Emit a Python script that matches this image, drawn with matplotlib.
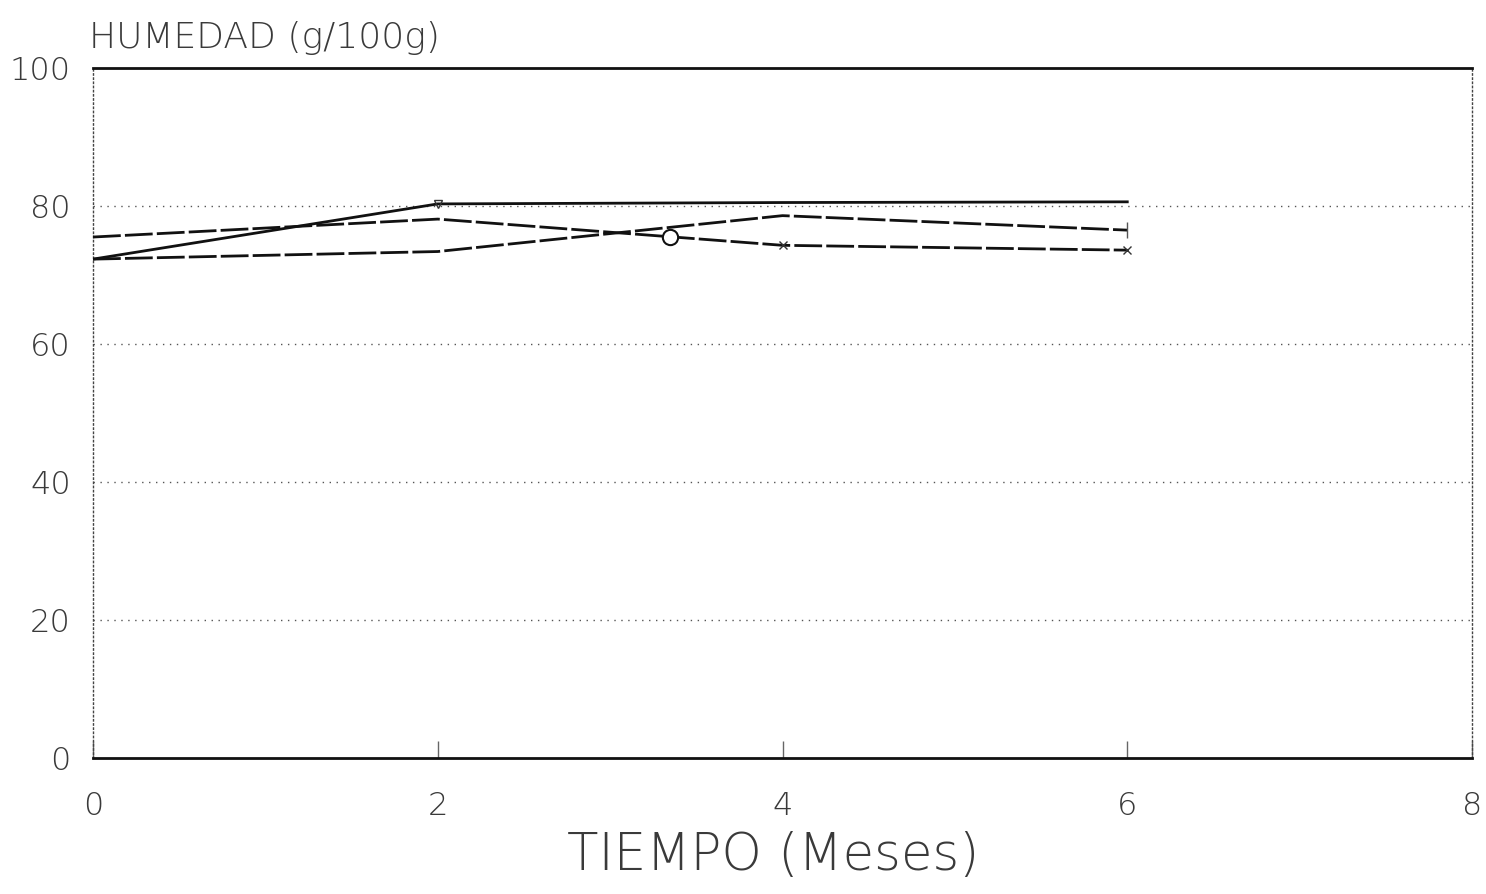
import matplotlib
matplotlib.use("Agg")
import matplotlib.pyplot as plt

# ---- data ----
meses = [0, 2, 4, 6]
serie_a = [72.3, 80.3, 80.5, 80.6]   # solid line
serie_b = [75.5, 78.1, 74.3, 73.6]   # dashed
serie_c = [72.3, 73.4, 78.6, 76.5]   # dashed
circulo_x = [3.35]
circulo_y = [75.5]
x_ticks = [0, 2, 4, 6, 8]
x_labels = ["0", "2", "4", "6", "8"]
y_ticks = [0, 20, 40, 60, 80, 100]
y_labels = ["0", "20", "40", "60", "80", "100"]
titulo_y = "HUMEDAD (g/100g)"
titulo_x = "TIEMPO (Meses)"

plt.rcParams['font.family'] = ['DejaVu Sans']
txt = '#3a3a3a'

fig = plt.figure(figsize=(14.86, 8.94), dpi=100)
ax = fig.add_axes([0.0626, 0.152, 0.928, 0.772])
ax.set_xlim(0, 8)
ax.set_ylim(0, 100)

# grid lines (dotted)
for v in y_ticks[1:-1]:
    ax.axhline(v, color='#555555', lw=1.0, ls=(0, (1, 4)), zorder=1)

ax.plot(meses, serie_a, color='#111111', lw=2.0, zorder=3)
ax.plot(meses, serie_b, color='#111111', lw=2.0, ls=(0, (10, 1.5)), zorder=3)
ax.plot(meses, serie_c, color='#111111', lw=2.0, ls=(0, (10, 1.5)), zorder=3)
ax.plot(circulo_x, circulo_y, 'o', ms=11, mfc='white', mec='#111111', mew=1.5, zorder=4)
# small point markers
ax.plot(meses[1:2], serie_a[1:2], marker='v', ms=6, mfc='none', mec='#333333', ls='none', zorder=4)
ax.plot(meses[2:3], serie_b[2:3], marker='x', ms=6, mec='#333333', ls='none', zorder=4)
ax.plot(meses[3:4], serie_c[3:4], marker='|', ms=12, mec='#555555', ls='none', zorder=4)
ax.plot(meses[3:4], serie_b[3:4], marker='x', ms=6, mec='#333333', ls='none', zorder=4)

# spines
ax.spines['top'].set_linewidth(2.0)
ax.spines['bottom'].set_linewidth(2.0)
ax.spines['top'].set_color('#111111')
ax.spines['bottom'].set_color('#111111')
for s in ['left', 'right']:
    ax.spines[s].set_linewidth(1.0)
    ax.spines[s].set_linestyle((0, (1, 2)))
    ax.spines[s].set_color('#444444')

ax.set_xticks(x_ticks)
ax.set_xticklabels(x_labels)
ax.set_yticks(y_ticks)
ax.set_yticklabels(y_labels)
ax.tick_params(axis='x', direction='in', length=12, width=1, color='#666666',
               labelsize=23, labelcolor=txt, pad=24)
ax.tick_params(axis='y', length=0, labelsize=23, labelcolor=txt, pad=16)
for lab in ax.get_xticklabels() + ax.get_yticklabels():
    lab.set_fontweight('light')

fig.text(0.060, 0.957, titulo_y, fontsize=26, color=txt, ha='left', va='center',
         fontweight='light')
fig.text(0.52, 0.043, titulo_x, fontsize=37, color=txt, ha='center', va='center',
         fontweight='light')

fig.savefig("out.png", dpi=100, facecolor='white')
